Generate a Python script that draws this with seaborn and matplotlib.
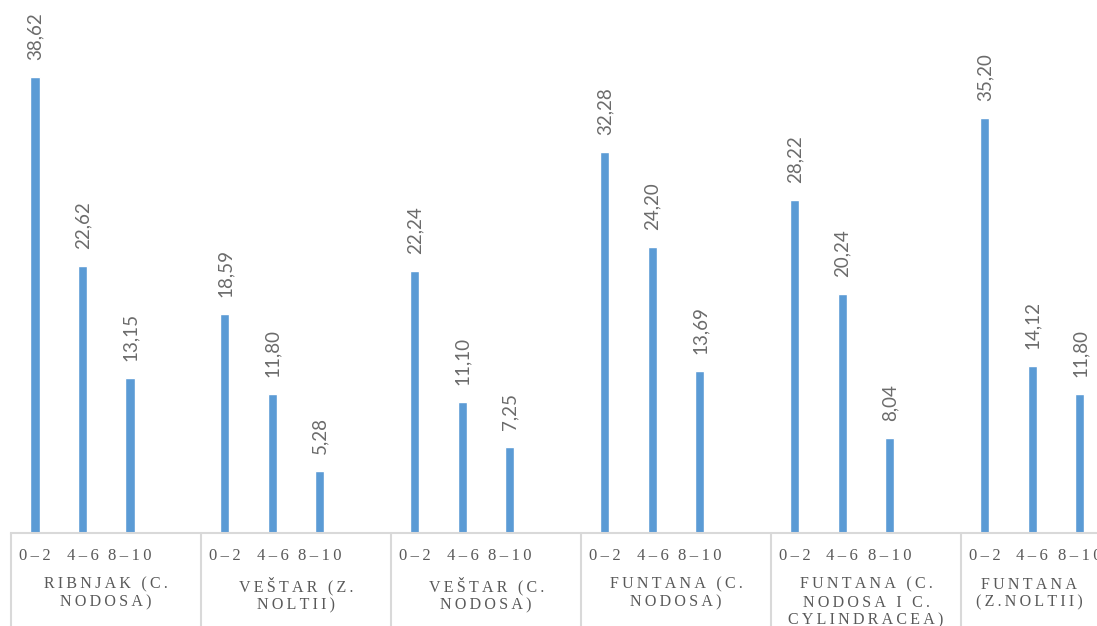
import pandas as pd
import seaborn as sns
import matplotlib.pyplot as plt

# share of values per sediment depth (cm) at each site
groups = [
    "RIBNJAK (C.\nNODOSA)",
    "VEŠTAR (Z.\nNOLTII)",
    "VEŠTAR (C.\nNODOSA)",
    "FUNTANA (C.\nNODOSA)",
    "FUNTANA (C.\nNODOSA I C.\nCYLINDRACEA)",
    "FUNTANA\n(Z.NOLTII)",
]
depths = ["0–2", "4–6", "8–10"]
ribnjak_cn = [38.62, 22.62, 13.15]
vestar_zn = [18.59, 11.80, 5.28]
vestar_cn = [22.24, 11.10, 7.25]
funtana_cn = [32.28, 24.20, 13.69]
funtana_cn_cc = [28.22, 20.24, 8.04]
funtana_zn = [35.20, 14.12, 11.80]

series = [ribnjak_cn, vestar_zn, vestar_cn, funtana_cn, funtana_cn_cc, funtana_zn]

rows = []
for g, vals in enumerate(series):
    for j, v in enumerate(vals):
        rows.append({"group": g, "depth": depths[j], "pos": g * 4 + j, "value": v})
df = pd.DataFrame(rows)


def spaced(s, sep="\u2009"):
    # imitate the letter spacing of the original labels
    return "\n".join(sep.join(line) for line in s.split("\n"))


sns.set_theme(style="white")
plt.rcParams["font.family"] = ["Lato", "DejaVu Sans"]

fig = plt.figure(figsize=(10.97, 6.26), dpi=100)
ax = fig.add_axes([0, 93 / 626, 1, 533 / 626])

sns.barplot(data=df, x="pos", y="value", native_scale=True, width=0.19,
            color="#5B9BD5", saturation=1, ax=ax)

xmax = 22.36
ax.set_xlim(-0.737, xmax)
ax.set_ylim(0, 45.17)

for _, r in df.iterrows():
    ax.annotate(f"{r['value']:.2f}".replace(".", ","), (r["pos"], r["value"]),
                xytext=(0, 17), textcoords="offset pixels", rotation=90,
                ha="center", va="bottom", fontsize=13.5, color="#6b6b6b")

ax.set_xticks(df["pos"])
ax.set_xticklabels([spaced(d) for d in df["depth"]],
                   family=["Liberation Serif", "DejaVu Serif"],
                   fontsize=12, color="#595959")
ax.tick_params(axis="x", length=0, pad=11)
ax.set_yticks([])
ax.set_xlabel("")
ax.set_ylabel("")

for side in ["top", "right", "left"]:
    ax.spines[side].set_visible(False)
ax.spines["bottom"].set_color("#d9d9d9")
ax.spines["bottom"].set_linewidth(1.5)
ax.spines["bottom"].set_bounds(-0.5, 30)

trans = ax.get_xaxis_transform()
bounds = [g * 4 - 0.5 for g in range(len(groups))]
ax.vlines(bounds, -0.2, 0, transform=trans, colors="#d9d9d9",
          linewidth=1.5, clip_on=False)

for g, name in enumerate(groups):
    # centre each label on the visible part of its group
    cx = (bounds[g] + min(bounds[g] + 4, xmax)) / 2
    ax.text(cx, -0.082, spaced(name), transform=trans,
            ha="center", va="top", fontsize=11.5, color="#595959",
            family=["Liberation Serif", "DejaVu Serif"], linespacing=1.15,
            clip_on=False)

fig.savefig("out.png", dpi=100)
